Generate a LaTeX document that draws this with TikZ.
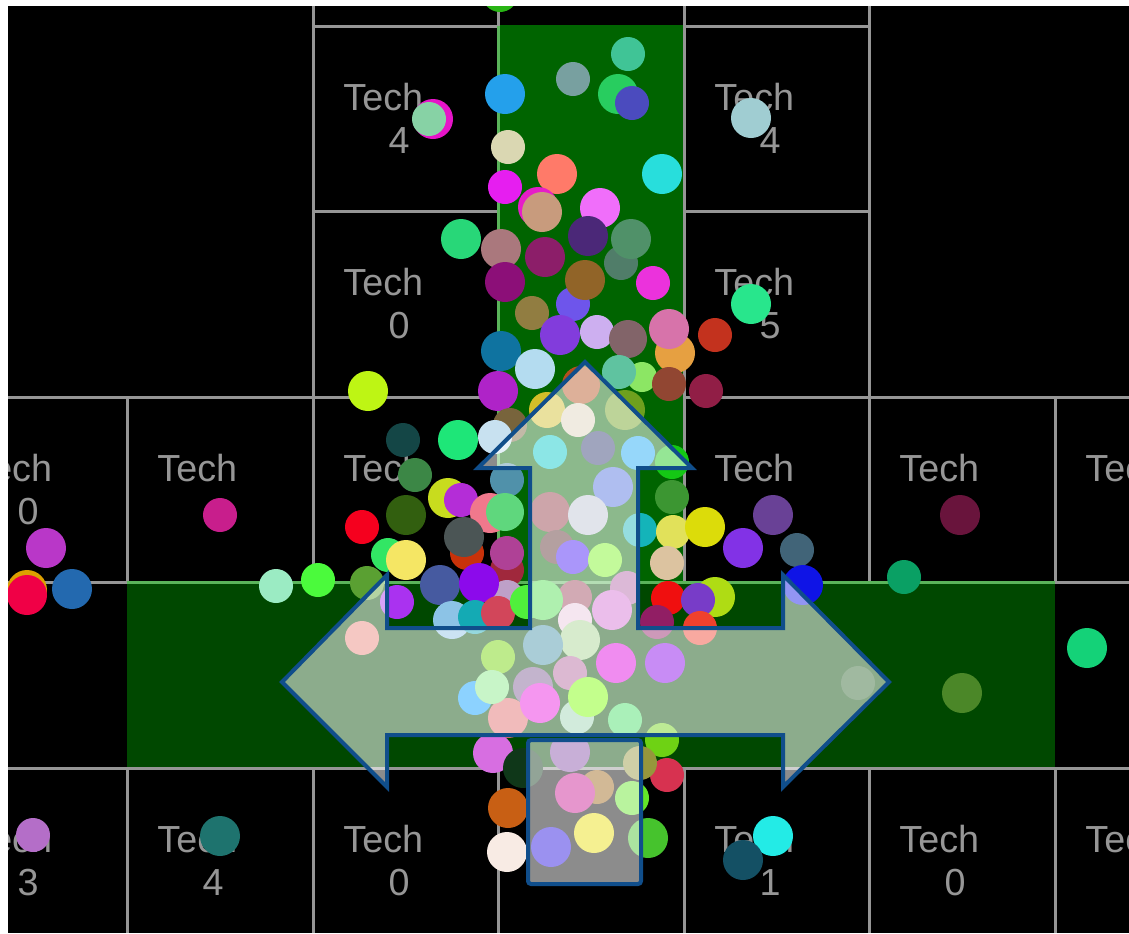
\documentclass[tikz,border=0pt]{standalone}
\usepackage{fontspec}
\newfontfamily\labfont{Liberation Sans}
\definecolor{gridc}{RGB}{150,150,150}
\definecolor{edgec}{RGB}{90,180,90}
\definecolor{vcorr}{RGB}{0,100,0}
\definecolor{hcorr}{RGB}{0,72,0}
\definecolor{arrowc}{RGB}{16,78,139}
\definecolor{labc}{RGB}{150,150,150}
\newcommand\mydot[6]{\fill[fill={rgb,255:red,#4;green,#5;blue,#6}] (#1,#2) circle[radius=#3];}
\newcommand\arrowshape[1]{\path[#1] (585,362) -- (692,468) -- (638,468) -- (638,628) -- (783,628) -- (783,575) -- (889,682) -- (783,787) -- (783,735) -- (387,735) -- (387,787) -- (282,682) -- (387,575) -- (387,628) -- (530,628) -- (530,468) -- (478,468) -- cycle;}
\newcommand\boxshape[1]{\path[#1] (528,740) rectangle (641,884);}
\begin{document}
\begin{tikzpicture}[x=0.5pt,y=-0.5pt,
  gridline/.style={draw=gridc,line width=1.5pt},
  edgeline/.style={draw=edgec,line width=1.5pt},
  lab/.style={font=\labfont\fontsize{18.85}{20}\selectfont,text=labc,inner sep=0pt},
  arrowline/.style={draw=arrowc,line width=2pt,line join=miter},
  overlay/.style={fill=white,fill opacity=0.55}]
\useasboundingbox (0,0) rectangle (1129,933);
\clip (0,0) rectangle (1129,933);
\fill[black] (0,0) rectangle (1129,933);
% corridors
\fill[vcorr] (498,25) rectangle (684,582);
\fill[hcorr] (127,582) rectangle (1055,768);
% grid
\draw[gridline] (313,0) -- (313,582) (313,768) -- (313,933);
\draw[gridline] (498,0) -- (498,26) (498,768) -- (498,933);
\draw[gridline] (684,0) -- (684,582) (684,768) -- (684,933);
\draw[gridline] (869,0) -- (869,582) (869,768) -- (869,933);
\draw[gridline] (127,397) -- (127,582) (127,768) -- (127,933);
\draw[gridline] (1055,397) -- (1055,582) (1055,768) -- (1055,933);
\draw[gridline] (313,26) -- (498,26) (684,26) -- (869,26);
\draw[gridline] (313,211) -- (498,211) (684,211) -- (869,211);
\draw[gridline] (0,397) -- (498,397) (684,397) -- (1129,397);
\draw[gridline] (0,582) -- (127,582) (1055,582) -- (1129,582);
\draw[gridline] (0,768) -- (1129,768);
\draw[edgeline] (498,26) -- (498,582) (127,582) -- (1055,582);
% labels
\node[lab,anchor=base west] (tA1) at (343,110) {Tech};
\node[lab,anchor=base] (nA1) at (399,153) {4};
\node[lab,anchor=base west] (tA2) at (714,110) {Tech};
\node[lab,anchor=base] (nA2) at (770,153) {4};
\node[lab,anchor=base west] (tB1) at (343,295) {Tech};
\node[lab,anchor=base] (nB1) at (399,338) {0};
\node[lab,anchor=base west] (tB2) at (714,295) {Tech};
\node[lab,anchor=base] (nB2) at (770,338) {5};
\node[lab,anchor=base west] (tC0) at (-28,481) {Tech};
\node[lab,anchor=base] (nC0) at (28,524) {0};
\node[lab,anchor=base west] (tC1) at (157,481) {Tech};
\node[lab,anchor=base west] (tC2) at (343,481) {Tech};
\node[lab,anchor=base west] (tC3) at (714,481) {Tech};
\node[lab,anchor=base west] (tC4) at (899,481) {Tech};
\node[lab,anchor=base west] (tC5) at (1085,481) {Tech};
\node[lab,anchor=base west] (tE0) at (-28,852) {Tech};
\node[lab,anchor=base] (nE0) at (28,895) {3};
\node[lab,anchor=base west] (tE1) at (157,852) {Tech};
\node[lab,anchor=base] (nE1) at (213,895) {4};
\node[lab,anchor=base west] (tE2) at (343,852) {Tech};
\node[lab,anchor=base] (nE2) at (399,895) {0};
\node[lab,anchor=base west] (tE3) at (714,852) {Tech};
\node[lab,anchor=base] (nE3) at (770,895) {1};
\node[lab,anchor=base west] (tE4) at (899,852) {Tech};
\node[lab,anchor=base] (nE4) at (955,895) {0};
\node[lab,anchor=base west] (tE5) at (1085,852) {Tech};
% dots (plain colours)
\mydot{500}{-6}{18}{40}{180}{20}
\mydot{505}{94}{20}{36}{160}{235}
\mydot{573}{79}{17}{120}{160}{160}
\mydot{628}{54}{17}{64}{196}{150}
\mydot{618}{94}{20}{40}{205}{95}
\mydot{632}{103}{17}{75}{75}{190}
\mydot{433}{119}{20}{230}{20}{200}
\mydot{429}{119}{17}{135}{210}{165}
\mydot{508}{147}{17}{218}{215}{178}
\mydot{557}{174}{20}{255}{122}{105}
\mydot{662}{174}{20}{40}{222}{220}
\mydot{505}{187}{17}{230}{30}{240}
\mydot{538}{207}{20}{230}{30}{200}
\mydot{542}{212}{20}{200}{155}{125}
\mydot{600}{208}{20}{240}{110}{250}
\mydot{751}{118}{20}{160}{205}{210}
\mydot{461}{239}{20}{40}{215}{120}
\mydot{588}{236}{20}{75}{40}{120}
\mydot{501}{249}{20}{170}{120}{125}
\mydot{545}{257}{20}{140}{30}{105}
\mydot{621}{263}{17}{80}{125}{105}
\mydot{631}{239}{20}{80}{145}{105}
\mydot{505}{282}{20}{140}{15}{120}
\mydot{573}{304}{17}{110}{85}{235}
\mydot{585}{280}{20}{145}{100}{40}
\mydot{653}{283}{17}{235}{50}{220}
\mydot{532}{313}{17}{145}{125}{65}
\mydot{751}{304}{20}{40}{230}{140}
\mydot{560}{335}{20}{130}{60}{220}
\mydot{597}{332}{17}{205}{175}{240}
\mydot{628}{339}{19}{130}{100}{105}
\mydot{675}{353}{20}{230}{160}{65}
\mydot{669}{329}{20}{215}{115}{170}
\mydot{715}{335}{17}{195}{50}{30}
\mydot{501}{351}{20}{15}{115}{160}
\mydot{535}{369}{20}{180}{220}{240}
\mydot{642}{377}{15}{140}{230}{100}
\mydot{619}{372}{17}{95}{195}{160}
\mydot{669}{384}{17}{145}{70}{50}
\mydot{706}{391}{17}{145}{30}{70}
\mydot{498}{391}{20}{175}{35}{200}
\mydot{368}{391}{20}{190}{245}{20}
\mydot{581}{385}{19}{180}{80}{30}
\mydot{547}{410}{18}{210}{190}{40}
\mydot{625}{410}{20}{110}{160}{30}
\mydot{672}{462}{17}{20}{200}{20}
\mydot{510}{425}{17}{120}{100}{60}
\mydot{495}{437}{17}{200}{225}{240}
\mydot{403}{440}{17}{20}{70}{70}
\mydot{458}{440}{20}{30}{230}{120}
\mydot{415}{475}{17}{60}{135}{70}
\mydot{507}{480}{17}{80}{145}{170}
\mydot{406}{515}{20}{50}{95}{15}
\mydot{362}{527}{17}{245}{0}{30}
\mydot{448}{498}{20}{200}{220}{30}
\mydot{461}{500}{17}{180}{45}{215}
\mydot{490}{513}{20}{240}{120}{140}
\mydot{505}{512}{19}{95}{215}{125}
\mydot{467}{553}{17}{200}{50}{10}
\mydot{464}{537}{20}{75}{85}{85}
\mydot{507}{570}{17}{160}{40}{60}
\mydot{507}{553}{17}{175}{65}{150}
\mydot{388}{555}{17}{50}{230}{100}
\mydot{406}{560}{20}{245}{230}{100}
\mydot{367}{583}{17}{90}{160}{50}
\mydot{440}{585}{20}{70}{90}{160}
\mydot{507}{597}{17}{190}{160}{200}
\mydot{479}{583}{20}{140}{10}{235}
\mydot{397}{602}{17}{170}{50}{240}
\mydot{452}{620}{19}{140}{195}{230}
\mydot{475}{617}{17}{20}{170}{180}
\mydot{498}{613}{17}{210}{70}{90}
\mydot{527}{602}{17}{80}{240}{60}
\mydot{276}{586}{17}{155}{235}{195}
\mydot{318}{580}{17}{75}{250}{60}
\mydot{46}{548}{20}{185}{55}{200}
\mydot{27}{590}{20}{220}{160}{0}
\mydot{27}{595}{20}{240}{0}{70}
\mydot{72}{589}{20}{35}{105}{175}
\mydot{220}{515}{17}{200}{30}{140}
\mydot{672}{497}{17}{60}{150}{50}
\mydot{640}{530}{17}{20}{180}{185}
\mydot{673}{532}{17}{225}{225}{90}
\mydot{705}{527}{20}{220}{220}{10}
\mydot{773}{515}{20}{105}{65}{150}
\mydot{743}{548}{20}{130}{50}{230}
\mydot{797}{550}{17}{65}{100}{120}
\mydot{667}{563}{17}{220}{195}{160}
\mydot{715}{597}{20}{175}{220}{20}
\mydot{668}{598}{17}{240}{15}{15}
\mydot{698}{600}{17}{120}{60}{200}
\mydot{657}{622}{17}{145}{30}{100}
\mydot{700}{628}{17}{240}{65}{45}
\mydot{803}{585}{20}{15}{20}{230}
\mydot{960}{515}{20}{105}{20}{60}
\mydot{904}{577}{17}{10}{160}{100}
\mydot{1087}{648}{20}{20}{210}{120}
\mydot{962}{693}{20}{75}{135}{40}
\mydot{508}{718}{20}{225}{105}{105}
\mydot{662}{740}{17}{110}{210}{20}
\mydot{667}{775}{17}{215}{50}{80}
\mydot{640}{763}{17}{150}{150}{60}
\mydot{648}{838}{20}{70}{195}{45}
\mydot{632}{798}{17}{100}{230}{40}
\mydot{773}{836}{20}{35}{235}{230}
\mydot{743}{860}{20}{20}{80}{100}
\mydot{493}{753}{20}{215}{110}{225}
\mydot{523}{768}{20}{15}{55}{25}
\mydot{508}{808}{20}{200}{95}{20}
\mydot{507}{852}{20}{248}{235}{228}
\mydot{33}{835}{17}{180}{110}{200}
\mydot{220}{836}{20}{30}{115}{110}
% translucent arrow and box
\arrowshape{overlay}
\boxshape{overlay}
\begin{scope}
\arrowshape{clip}
\mydot{578}{420}{17}{240}{235}{225}
\mydot{550}{452}{17}{140}{230}{230}
\mydot{598}{448}{17}{160}{165}{190}
\mydot{638}{453}{17}{150}{215}{250}
\mydot{613}{487}{20}{175}{190}{240}
\mydot{550}{512}{20}{205}{165}{170}
\mydot{588}{515}{20}{225}{228}{235}
\mydot{557}{547}{17}{180}{160}{160}
\mydot{573}{557}{17}{170}{150}{250}
\mydot{605}{560}{17}{195}{250}{155}
\mydot{627}{588}{17}{220}{185}{215}
\mydot{575}{597}{17}{210}{170}{180}
\mydot{543}{600}{20}{175}{240}{175}
\mydot{612}{610}{20}{235}{190}{235}
\mydot{575}{620}{17}{245}{230}{240}
\mydot{580}{640}{20}{215}{235}{205}
\mydot{543}{645}{20}{170}{205}{215}
\mydot{362}{638}{17}{245}{200}{195}
\mydot{498}{657}{17}{190}{235}{140}
\mydot{616}{663}{20}{240}{140}{240}
\mydot{665}{663}{20}{200}{140}{245}
\mydot{570}{673}{17}{220}{185}{210}
\mydot{533}{687}{20}{195}{180}{205}
\mydot{475}{698}{17}{140}{210}{255}
\mydot{492}{687}{17}{200}{245}{200}
\mydot{540}{703}{20}{245}{150}{240}
\mydot{577}{717}{17}{210}{235}{220}
\mydot{588}{697}{20}{195}{255}{140}
\mydot{625}{720}{17}{170}{240}{185}
\mydot{858}{683}{17}{160}{185}{160}
\end{scope}
\begin{scope}
\boxshape{clip}
\mydot{570}{752}{20}{200}{175}{215}
\mydot{597}{787}{17}{210}{185}{150}
\mydot{575}{793}{20}{230}{150}{205}
\mydot{594}{833}{20}{245}{240}{145}
\mydot{551}{847}{20}{155}{145}{240}
\end{scope}
\arrowshape{arrowline}
\boxshape{arrowline,rounded corners=1.5pt}
% white margins
\fill[white] (0,0) rectangle (7.5,933);
\fill[white] (0,0) rectangle (1129,6);
\end{tikzpicture}
\end{document}
